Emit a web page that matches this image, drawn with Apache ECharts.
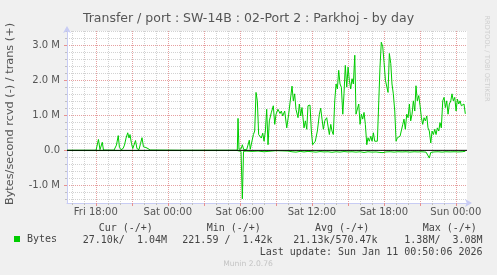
<!DOCTYPE html>
<html><head><meta charset="utf-8">
<script src="https://cdn.jsdelivr.net/npm/echarts@6/dist/echarts.min.js"></script>
<style>html,body{margin:0;padding:0;background:#f0f0f0;}#c{width:497px;height:275px;}</style>
</head><body><div id="c"></div>
<script>
const titleText = 'Transfer / port : SW-14B : 02-Port 2 : Parkhoj - by day';
const yAxisTitle = 'Bytes/second rcvd (-) / trans (+)';
const seriesName = 'Bytes';
const xStartHour = -8.4, xEndHour = 24.93; // hours relative to Sat 00:00
const xLabelHours = [-6, 0, 6, 12, 18, 24];
const xLabels = ['Fri 18:00', 'Sat 00:00', 'Sat 06:00', 'Sat 12:00', 'Sat 18:00', 'Sun 00:00'];
const xMajorHours = [-6, -3, 0, 3, 6, 9, 12, 15, 18, 21, 24];
const xMinorHours = [-8,-7,-6,-5,-4,-3,-2,-1,0,1,2,3,4,5,6,7,8,9,10,11,12,13,14,15,16,17,18,19,20,21,22,23,24];
const yMin = -1.5, yMax = 3.4; // millions of bytes/s
const yLabelValues = [-1, 0, 1, 2, 3];
const yLabels = ['-1.0 M', '0.0', '1.0 M', '2.0 M', '3.0 M'];
const yMinorValues = [-1.4,-1.2,-1.0,-0.8,-0.6,-0.4,-0.2,0,0.2,0.4,0.6,0.8,1.0,1.2,1.4,1.6,1.8,2.0,2.2,2.4,2.6,2.8,3.0,3.2,3.4];

const transHours = [-8.40,-7.98,-7.86,-7.73,-5.98,-5.78,-5.65,-5.57,-5.46,-5.36,-4.48,-4.36,-4.28,-4.13,-4.03,-3.90,-3.73,-3.61,-3.48,-3.34,-3.23,-3.15,-3.03,-2.92,-2.82,-2.69,-2.57,-2.40,-2.27,-2.15,-2.03,-1.94,-1.82,-1.65,-1.48,-1.32,1.02,3.52,5.79,5.85,5.93,6.12,6.21,6.33,6.57,6.68,6.79,6.87,7.02,7.13,7.24,7.35,7.46,7.57,7.68,7.79,7.91,8.02,8.13,8.24,8.35,8.46,8.62,8.79,8.91,9.02,9.18,9.35,9.46,9.57,9.74,9.91,10.07,10.18,10.35,10.46,10.57,10.68,10.85,10.96,11.07,11.18,11.35,11.46,11.58,11.68,11.85,11.96,12.07,12.18,12.29,12.46,12.63,12.74,12.85,12.96,13.08,13.24,13.35,13.46,13.58,13.68,13.79,13.91,14.02,14.13,14.24,14.35,14.46,14.58,14.68,14.79,14.91,15.02,15.13,15.24,15.35,15.46,15.58,15.68,15.79,15.91,16.02,16.13,16.24,16.35,16.46,16.58,16.68,16.79,16.91,17.02,17.13,17.24,17.35,17.46,17.58,17.68,17.79,17.91,18.02,18.13,18.24,18.35,18.46,18.58,18.68,18.79,18.91,19.02,19.13,19.24,19.35,19.46,19.58,19.68,19.79,19.91,20.02,20.13,20.24,20.35,20.46,20.58,20.68,20.79,20.91,21.02,21.13,21.24,21.35,21.46,21.58,21.68,21.79,21.91,22.02,22.13,22.24,22.35,22.46,22.58,22.68,22.79,22.91,23.02,23.13,23.24,23.35,23.46,23.58,23.68,23.79,23.91,24.02,24.13,24.24,24.35,24.46,24.58,24.68,24.79];
const transValues = [0.004,0.003,0.04,0.004,0.003,0.31,0.02,0.03,0.23,0.01,0.005,0.05,0.15,0.42,0.08,0.02,0.05,0.15,0.35,0.50,0.35,0.45,0.20,0.05,0.15,0.28,0.05,0.02,0.20,0.36,0.10,0.08,0.08,0.05,0.01,0.004,0.003,0.004,0.004,0.91,0.03,0.05,0.16,0.02,0.02,0.15,0.29,0.03,0.05,0.45,0.55,1.65,1.41,0.45,0.40,0.35,0.49,0.26,0.55,1.17,0.16,0.84,1.07,1.27,0.74,1.03,1.17,1.05,1.12,0.98,1.12,0.64,1.03,1.07,1.83,1.41,1.61,1.17,0.93,1.32,0.98,1.22,0.64,0.84,0.60,1.27,1.29,0.55,0.16,0.12,0.26,0.55,1.03,1.20,0.89,0.60,0.84,0.93,0.69,0.45,0.74,0.55,0.45,1.41,1.89,1.75,2.28,1.89,1.80,1.03,1.61,2.42,1.80,2.37,1.99,1.75,2.04,1.89,2.71,1.03,0.98,1.32,0.74,1.03,0.89,1.08,0.74,0.16,0.36,0.26,0.40,0.26,0.50,0.26,0.21,0.26,1.41,2.37,3.08,2.95,2.50,2.00,2.04,1.65,2.76,2.47,1.89,1.61,1.12,0.26,0.36,0.31,0.40,0.45,0.74,0.89,0.60,1.03,0.93,1.32,0.84,1.03,1.41,1.12,1.84,1.41,1.56,1.27,0.93,0.74,0.93,0.84,0.98,0.64,0.55,0.21,0.55,0.45,0.60,0.45,0.64,0.55,0.79,0.64,1.41,1.51,1.22,1.41,1.03,1.32,1.41,1.61,1.41,1.51,1.12,1.46,1.32,1.41,1.27,1.22,1.32,1.04];

const rcvdHours = [-8.40,-5.65,-1.48,2.68,5.77,5.89,6.10,6.21,6.31,6.52,7.02,7.52,8.02,8.35,8.68,9.02,9.52,10.02,10.35,10.68,11.02,11.35,11.68,12.02,12.35,12.68,13.02,13.35,13.68,14.02,14.35,14.68,15.02,15.35,15.68,16.02,16.35,16.68,17.02,17.35,17.68,17.93,18.18,18.52,18.85,19.18,19.52,19.85,20.18,20.52,20.85,21.18,21.52,21.68,21.79,21.91,22.18,22.52,22.85,23.18,23.52,23.85,24.18,24.52,24.79];
const rcvdValues = [-0.005,-0.006,-0.005,-0.006,-0.005,-0.02,-0.03,-1.38,-0.03,-0.02,-0.03,-0.02,-0.04,-0.03,-0.02,-0.01,-0.015,-0.02,-0.04,-0.05,-0.03,-0.045,-0.03,-0.04,-0.05,-0.035,-0.045,-0.04,-0.055,-0.04,-0.05,-0.035,-0.045,-0.04,-0.05,-0.04,-0.06,-0.04,-0.05,-0.045,-0.06,-0.065,-0.045,-0.04,-0.05,-0.04,-0.045,-0.04,-0.05,-0.04,-0.045,-0.04,-0.05,-0.06,-0.22,-0.06,-0.045,-0.04,-0.05,-0.04,-0.045,-0.04,-0.045,-0.04,-0.027];

const statHeaders = ['Cur (-/+)', 'Min (-/+)', 'Avg (-/+)', 'Max (-/+)'];
const statValues = ['27.10k/  1.04M', '221.59 /  1.42k', '21.13k/570.47k', '1.38M/  3.08M'];
const lastUpdate = 'Last update: Sun Jan 11 00:50:06 2026';
const credit = 'Munin 2.0.76';
const sideText = 'RRDTOOL / TOBI OETIKER';

const GREEN = '#00cc00';
const TXT = '#555';
const AXIS = '#c8ccf4';
const MINOR = '#d2d2d2';
const MAJOR = '#e6a0a0';

function pickLabel(vals, labels, v) {
  for (let i = 0; i < vals.length; i++) if (Math.abs(vals[i] - v) < 1e-9) return labels[i];
  return '';
}

const chart = echarts.init(document.getElementById('c'), null, {renderer: 'canvas'});
const headerX = [98.7, 206.7, 315, 422.7];
const valueX = [82.7, 182.3, 293.3, 404.3];
const graphics = [];
statHeaders.forEach((t, i) => graphics.push({type: 'text', x: headerX[i], y: 228,
  style: {text: t, font: '10px "DejaVu Sans Mono"', fill: '#444', textAlign: 'left', textVerticalAlign: 'middle', verticalAlign: 'middle'}}));
statValues.forEach((t, i) => graphics.push({type: 'text', x: valueX[i], y: 240,
  style: {text: t, font: '10px "DejaVu Sans Mono"', fill: '#444', textAlign: 'left', textVerticalAlign: 'middle', verticalAlign: 'middle'}}));
graphics.push({type: 'text', x: 482.5, y: 252,
  style: {text: lastUpdate, font: '10px "DejaVu Sans Mono"', fill: '#444', textAlign: 'right', textVerticalAlign: 'middle', verticalAlign: 'middle'}});
graphics.push({type: 'text', x: 248, y: 264.5,
  style: {text: credit, font: '7.6px "DejaVu Sans"', fill: '#c4c4c4', textAlign: 'center', textVerticalAlign: 'middle', verticalAlign: 'middle'}});
graphics.push({type: 'text', x: 487, y: 58.5, rotation: -Math.PI / 2,
  style: {text: sideText, font: '6.7px "DejaVu Sans"', fill: '#cfcfcf', textAlign: 'center', textVerticalAlign: 'middle', verticalAlign: 'middle'}});
graphics.push({type: 'text', x: 10.5, y: 114, rotation: Math.PI / 2,
  style: {text: yAxisTitle, font: '11.3px "DejaVu Sans"', fill: TXT, textAlign: 'center', textVerticalAlign: 'middle', verticalAlign: 'middle'}});

const option = {
  animation: false,
  backgroundColor: '#f0f0f0',
  title: {text: titleText, left: 'center', top: 12, padding: 0,
    textStyle: {fontFamily: 'DejaVu Sans', fontSize: 12.5, fontWeight: 'normal', color: TXT, lineHeight: 14}},
  legend: {data: [seriesName], left: 14, top: 234, padding: 0, itemWidth: 6, itemHeight: 6, icon: 'rect', selectedMode: false,
    textStyle: {fontFamily: 'DejaVu Sans Mono', fontSize: 10, color: '#444', padding: [0, 0, 0, 2]}},
  grid: {left: 67, top: 31, width: 400, height: 172, show: true, backgroundColor: '#ffffff', borderWidth: 0, containLabel: false},
  xAxis: [
    {type: 'value', min: xStartHour, max: xEndHour, position: 'bottom',
      axisLine: {show: false, onZero: false}, axisLabel: {show: false},
      axisTick: {show: true, customValues: xMinorHours, length: 2, lineStyle: {color: '#c0c0c0'}},
      splitLine: {show: true, lineStyle: {color: MINOR, width: 1, type: [1, 1]}}},
    {type: 'value', min: xStartHour, max: xEndHour, position: 'bottom',
      axisLine: {show: true, onZero: false, lineStyle: {color: AXIS, width: 1}, symbol: ['none', 'arrow'], symbolSize: [6, 7], symbolOffset: [0, 5]},
      axisTick: {show: true, customValues: xMajorHours, length: 3, lineStyle: {color: '#e89090'}},
      axisLabel: {show: true, customValues: xLabelHours, formatter: v => pickLabel(xLabelHours, xLabels, v),
        fontFamily: 'DejaVu Sans', fontSize: 10, color: TXT, margin: 4},
      splitLine: {show: true, lineStyle: {color: MAJOR, width: 1, type: [1, 1]}}}
  ],
  yAxis: [
    {type: 'value', min: yMin, max: yMax, position: 'left',
      axisLine: {show: false, onZero: false}, axisLabel: {show: false},
      axisTick: {show: true, customValues: yMinorValues, length: 2, lineStyle: {color: '#c0c0c0'}},
      splitLine: {show: true, lineStyle: {color: MINOR, width: 1, type: [1, 1]}}},
    {type: 'value', min: yMin, max: yMax, position: 'left',
      axisLine: {show: true, onZero: false, lineStyle: {color: AXIS, width: 1}, symbol: ['none', 'arrow'], symbolSize: [6, 7], symbolOffset: [0, 5]},
      axisTick: {show: true, customValues: yLabelValues, length: 3, lineStyle: {color: '#e89090'}},
      axisLabel: {show: true, customValues: yLabelValues, formatter: v => pickLabel(yLabelValues, yLabels, v),
        fontFamily: 'DejaVu Sans', fontSize: 10, color: TXT, margin: 7},
      splitLine: {show: true, lineStyle: {color: MAJOR, width: 1, type: [1, 1]}}}
  ],
  series: [
    {name: seriesName, type: 'line', xAxisIndex: 1, yAxisIndex: 1, symbol: 'none', showSymbol: false,
      data: transHours.map((h, i) => [h, transValues[i]]), lineStyle: {color: GREEN, width: 1}, itemStyle: {color: GREEN}},
    {name: seriesName, type: 'line', xAxisIndex: 1, yAxisIndex: 1, symbol: 'none', showSymbol: false,
      data: rcvdHours.map((h, i) => [h, rcvdValues[i]]), lineStyle: {color: GREEN, width: 1}, itemStyle: {color: GREEN}},
    {name: 'zero', type: 'line', xAxisIndex: 1, yAxisIndex: 1, symbol: 'none', silent: true,
      data: [[xStartHour, 0], [xEndHour, 0]], lineStyle: {color: '#000000', width: 1}, itemStyle: {color: '#000000'}}
  ],
  graphic: graphics
};
chart.setOption(option);
</script></body></html>
